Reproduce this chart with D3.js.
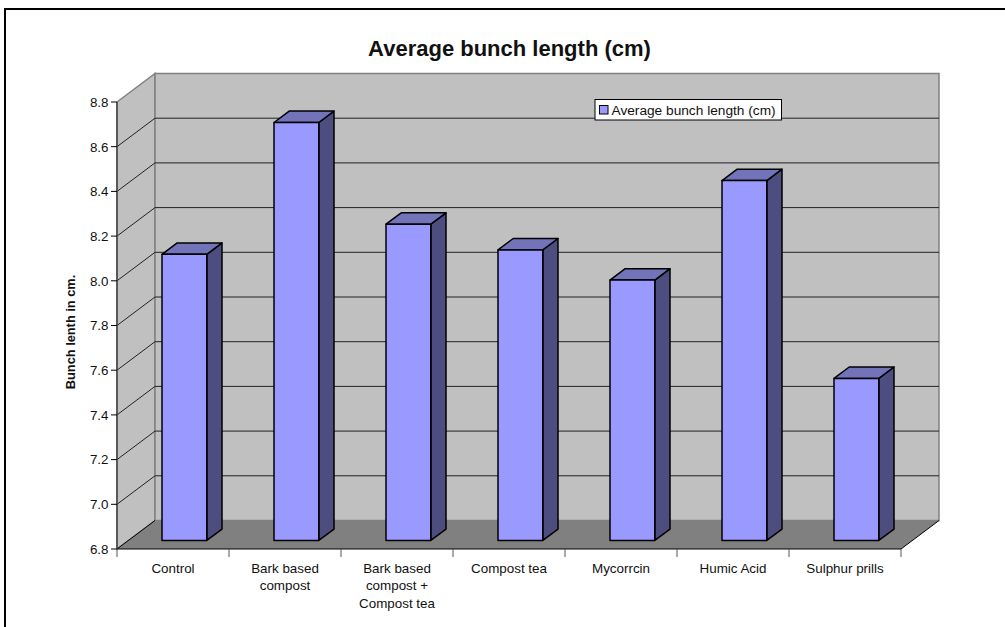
<!DOCTYPE html>
<html>
<head>
<meta charset="utf-8">
<script src="https://cdn.jsdelivr.net/npm/d3@7"></script>
<style>
  html, body { margin: 0; padding: 0; background: #fff; }
  svg { display: block; }
  text { font-family: "Liberation Sans", Arial, sans-serif; fill: #111; }
</style>
</head>
<body>
<svg id="chart" width="1005" height="627"></svg>
<script>
const chartTitle = "Average bunch length (cm)";
const yAxisTitle = "Bunch lenth in cm.";
const seriesName = "Average bunch length (cm)";
const categories = [
  ["Control"],
  ["Bark based", "compost"],
  ["Bark based", "compost +", "Compost tea"],
  ["Compost tea"],
  ["Mycorrcin"],
  ["Humic Acid"],
  ["Sulphur prills"]
];
const values = [8.08, 8.67, 8.215, 8.10, 7.965, 8.41, 7.525];
const yTicks = [6.8, 7.0, 7.2, 7.4, 7.6, 7.8, 8.0, 8.2, 8.4, 8.6, 8.8];

const svg = d3.select("#chart");

// Front plane of the 3D box
const y = d3.scaleLinear().domain([6.8, 8.8]).range([549, 102]);
const x = d3.scaleBand().domain(d3.range(categories.length)).range([117, 901]);
const barBand = d3.scaleBand().domain([0]).range([0, x.bandwidth()]).paddingInner(0.6).paddingOuter(0.298);

// Oblique projection: depth 0 is the front plane, depth 1 is the back wall
const depthX = d3.scaleLinear().domain([0, 1]).range([0, 38]);
const depthY = d3.scaleLinear().domain([0, 1]).range([0, -28.5]);
const barFront = 0.3, barBack = 0.7;
const poly = pts => pts.map(p => p.join(",")).join(" ");

// Page frame: only the top and left rules are drawn
svg.append("line").attr("x1", 4).attr("x2", 1005).attr("y1", 9).attr("y2", 9)
  .attr("stroke", "#000").attr("stroke-width", 2);
svg.append("line").attr("x1", 5).attr("x2", 5).attr("y1", 8).attr("y2", 627)
  .attr("stroke", "#000").attr("stroke-width", 2);

svg.append("text").attr("x", 509.5).attr("y", 56).attr("text-anchor", "middle")
  .attr("font-size", 22).attr("font-weight", "bold").text(chartTitle);

const [x0, x1] = x.range();
const yBot = y(6.8), yTop = y(8.8);
const dx = depthX(1), dy = depthY(1);

// Side wall, back wall and floor
svg.append("polygon")
  .attr("points", poly([[x0, yBot], [x0 + dx, yBot + dy], [x0 + dx, yTop + dy], [x0, yTop]]))
  .attr("fill", "#c0c0c0").attr("stroke", "#808080").attr("stroke-width", 1.5);
svg.append("polygon")
  .attr("points", poly([[x0 + dx, yBot + dy], [x1 + dx, yBot + dy], [x1 + dx, yTop + dy], [x0 + dx, yTop + dy]]))
  .attr("fill", "#c0c0c0").attr("stroke", "#808080").attr("stroke-width", 1.5);
svg.append("polygon")
  .attr("points", poly([[x0, yBot], [x1, yBot], [x1 + dx, yBot + dy], [x0 + dx, yBot + dy]]))
  .attr("fill", "#808080");
svg.append("line").attr("x1", x1).attr("y1", yBot).attr("x2", x1 + dx).attr("y2", yBot + dy)
  .attr("stroke", "#000").attr("stroke-width", 1);
svg.append("line").attr("x1", x0).attr("y1", yBot).attr("x2", x0 + dx).attr("y2", yBot + dy)
  .attr("stroke", "#000").attr("stroke-width", 1);

// Gridlines run along the side wall and across the back wall
const gridTicks = yTicks.slice(1, -1);
svg.append("g").selectAll("polyline").data(gridTicks).join("polyline")
  .attr("points", d => poly([[x0, y(d)], [x0 + dx, y(d) + dy], [x1 + dx, y(d) + dy]]))
  .attr("fill", "none").attr("stroke", "#222").attr("stroke-width", 1);

// Bars
const bars = svg.append("g").selectAll("g").data(values).join("g");
const w = barBand.bandwidth();
const fx = i => x(i) + barBand(0) + depthX(barFront);
const fy = v => y(v) + depthY(barFront);
const bx = depthX(barBack) - depthX(barFront);
const by = depthY(barBack) - depthY(barFront);
const barStroke = sel => sel.attr("stroke", "#000").attr("stroke-width", 1.5).attr("stroke-linejoin", "round");

bars.append("polygon").call(barStroke).attr("fill", "#4d4d80")
  .attr("points", (v, i) => poly([
    [fx(i) + w, fy(v)], [fx(i) + w + bx, fy(v) + by],
    [fx(i) + w + bx, fy(6.8) + by], [fx(i) + w, fy(6.8)]
  ]));
bars.append("polygon").call(barStroke).attr("fill", "#7373b9")
  .attr("points", (v, i) => poly([
    [fx(i), fy(v)], [fx(i) + bx, fy(v) + by],
    [fx(i) + w + bx, fy(v) + by], [fx(i) + w, fy(v)]
  ]));
bars.append("rect").call(barStroke).attr("fill", "#9999ff")
  .attr("x", (v, i) => fx(i)).attr("y", v => fy(v))
  .attr("width", w).attr("height", v => fy(6.8) - fy(v));

// Value axis
const yAxis = svg.append("g");
yAxis.append("line").attr("x1", x0).attr("x2", x0).attr("y1", yTop).attr("y2", yBot)
  .attr("stroke", "#444").attr("stroke-width", 1.5);
const yt = yAxis.selectAll("g").data(yTicks).join("g")
  .attr("transform", d => `translate(0,${y(d)})`);
yt.append("line").attr("x1", x0 - 6).attr("x2", x0).attr("stroke", "#000");
yt.append("text").attr("x", x0 - 8.5).attr("dy", "0.36em").attr("text-anchor", "end")
  .attr("font-size", 13.4).text(d3.format(".1f"));

svg.append("text").attr("transform", `translate(75,332) rotate(-90)`)
  .attr("text-anchor", "middle").attr("font-size", 12.8).attr("font-weight", "bold").text(yAxisTitle);

// Category axis
svg.append("line").attr("x1", x0).attr("x2", x1).attr("y1", yBot).attr("y2", yBot)
  .attr("stroke", "#000").attr("stroke-width", 1.2);
svg.append("g").selectAll("line").data(d3.range(categories.length + 1)).join("line")
  .attr("x1", i => x0 + i * x.step()).attr("x2", i => x0 + i * x.step())
  .attr("y1", yBot).attr("y2", yBot + 8)
  .attr("stroke", "#555").attr("stroke-width", 1);
const cat = svg.append("g").selectAll("text").data(categories).join("text")
  .attr("text-anchor", "middle").attr("font-size", 13.4)
  .attr("transform", (d, i) => `translate(${x(i) + x.bandwidth() / 2},0)`);
cat.selectAll("tspan").data(d => d).join("tspan")
  .attr("x", 0).attr("y", (d, i) => 573 + i * 17.3).text(d => d);

// Legend
const legend = svg.append("g").attr("transform", "translate(595,99.5)");
legend.append("rect").attr("width", 186.5).attr("height", 20.5).attr("fill", "#fff")
  .attr("stroke", "#000").attr("stroke-width", 1);
legend.append("rect").attr("x", 4.5).attr("y", 6).attr("width", 8.5).attr("height", 8.5)
  .attr("fill", "#9999ff").attr("stroke", "#000").attr("stroke-width", 1);
legend.append("text").attr("x", 16.5).attr("y", 15).attr("font-size", 13.7).text(seriesName);
</script>
</body>
</html>
